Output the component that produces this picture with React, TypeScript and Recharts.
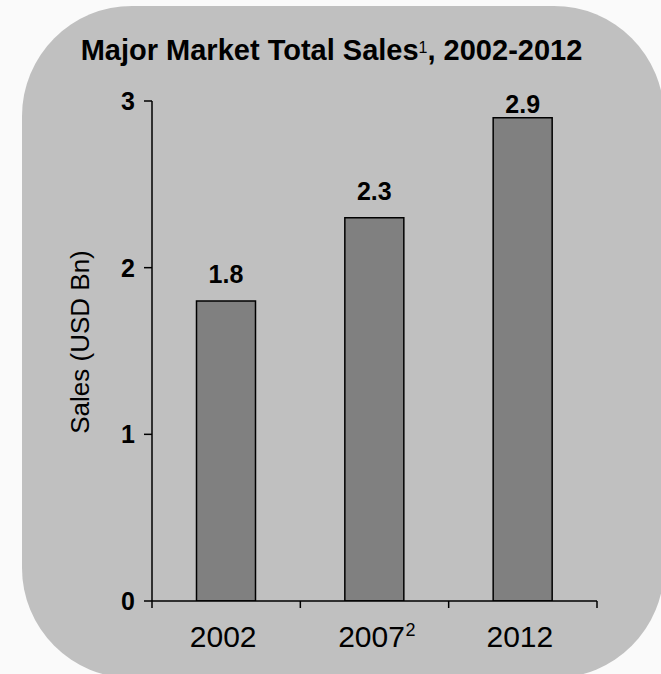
import React from 'react';
import { BarChart, Bar, XAxis, YAxis, LabelList } from 'recharts';

const categories = ['2002', '2007', '2012'];
const footnotes = ['', '2', ''];
const sales = [1.8, 2.3, 2.9];
const yTicks = [0, 1, 2, 3];
const edgeTicks = [0, 1, 2, 3];

// pos = category slot centre on a 0..n scale, used only by the boundary-tick axis
const data = categories.map((year, i) => ({ year, note: footnotes[i], sales: sales[i], pos: i + 0.5 }));

const W = 661;
const H = 674;
const FONT = '"Liberation Sans", Arial, Helvetica, sans-serif';
const LABEL_MIN_Y = 113;

function EmptyTick() {
  return <g />;
}

function YearTick(props: any) {
  const { x, y, payload, index } = props;
  const note = footnotes[index] || '';
  return (
    <g>
      <text x={x - 3} y={y + 37} textAnchor="middle" fontSize={30} fontFamily={FONT} fill="#000">
        {payload.value}
      </text>
      {note && (
        <text x={x + 31} y={y + 26} textAnchor="start" fontSize={18} fontFamily={FONT} fill="#000">
          {note}
        </text>
      )}
    </g>
  );
}

function ValueLabel(props: any) {
  const { x, y, width, value } = props;
  const ly = Math.max(y - 18, LABEL_MIN_Y);
  return (
    <text x={x + width / 2} y={ly} textAnchor="middle" fontSize={25} fontWeight="bold" fontFamily={FONT} fill="#000">
      {value}
    </text>
  );
}

export default function App() {
  return (
    <div style={{ position: 'absolute', left: 0, top: 0, width: W, height: H, overflow: 'hidden', background: '#fafafa', fontFamily: FONT }}>
      {/* rounded panel */}
      <div style={{ position: 'absolute', left: 22, top: 6, width: 642, height: 672, background: '#c0c0c0', borderRadius: 110 }} />
      <div style={{ position: 'absolute', left: 0, top: 36, width: 663, textAlign: 'center', fontSize: 29, lineHeight: 1, fontWeight: 'bold', color: '#000', whiteSpace: 'nowrap' }}>
        Major Market Total Sales<span style={{ fontSize: 16, fontWeight: 'normal', position: 'relative', top: -7 }}>1</span>, 2002-2012
      </div>
      <div style={{ position: 'absolute', left: 80, top: 342, width: 0, height: 0 }}>
        <div style={{ position: 'absolute', left: 0, top: 0, transform: 'translate(-50%, -50%) rotate(-90deg)', fontSize: 26, whiteSpace: 'nowrap', color: '#000', lineHeight: 1 }}>
          Sales (USD Bn)
        </div>
      </div>
      <div style={{ position: 'absolute', left: 0, top: 0 }}>
        <BarChart width={W} height={H} data={data} margin={{ top: 101, right: 64, bottom: 32, left: 52 }} barCategoryGap="30%">
          <XAxis
            xAxisId="a-edges"
            type="number"
            dataKey="pos"
            domain={[0, categories.length]}
            ticks={edgeTicks}
            allowDataOverflow
            tick={<EmptyTick />}
            tickSize={7}
            tickLine={{ stroke: '#000', strokeWidth: 1.5 }}
            axisLine={{ stroke: '#000', strokeWidth: 1.5 }}
            height={1}
          />
          <XAxis
            xAxisId="b-cat"
            dataKey="year"
            axisLine={false}
            tickLine={false}
            tick={<YearTick />}
            height={40}
            interval={0}
          />
          <YAxis
            domain={[0, 3]}
            ticks={yTicks}
            allowDataOverflow
            width={100}
            tickSize={8}
            tickMargin={9}
            tickLine={{ stroke: '#000', strokeWidth: 1.5 }}
            axisLine={{ stroke: '#000', strokeWidth: 1.5 }}
            tick={{ fill: '#000', fontSize: 25, fontWeight: 'bold', fontFamily: FONT }}
          />
          <Bar xAxisId="b-cat" dataKey="sales" fill="#808080" stroke="#000" strokeWidth={1.5} isAnimationActive={false}>
            <LabelList dataKey="sales" content={<ValueLabel />} />
          </Bar>
        </BarChart>
      </div>
    </div>
  );
}
